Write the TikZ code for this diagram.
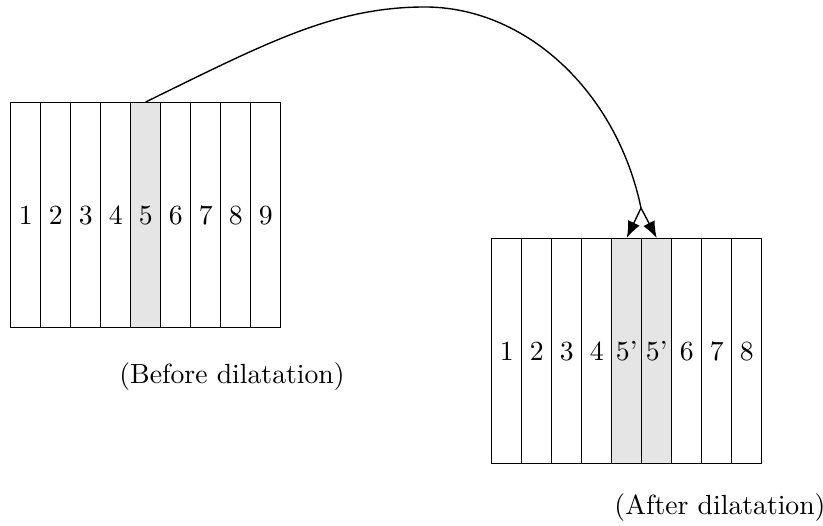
\documentclass[tikz,border=0pt]{standalone}
\usetikzlibrary{arrows.meta}
\begin{document}
\begin{tikzpicture}[x=0.3609pt,y=-0.3609pt,
  cell/.style={draw,line width=0.5pt,minimum width=10.83pt,minimum height=81.2pt,inner sep=0pt,anchor=north west,font=\normalsize},
  hl/.style={fill=black!10},
  arr/.style={-{Latex[length=6pt,width=4.6pt]},line width=0.5pt}]
\useasboundingbox (0,0) rectangle (823,526);
% left grid
\foreach \i/\lab in {1/1,2/2,3/3,4/4,6/6,7/7,8/8,9/9}{
  \node[cell] (L\i) at ({10+30*(\i-1)},102) {\lab};
}
\node[cell,hl] (L5) at (130,102) {5};
% right grid
\foreach \i/\lab in {1/1,2/2,3/3,4/4,7/6,8/7,9/8}{
  \node[cell] (R\i) at ({491+30*(\i-1)},238) {\lab};
}
\node[cell,hl] (R5) at (611,238) {5'};
\node[cell,hl] (R6) at (641,238) {5'};
% labels
\node (lb) at (232,377) {(Before dilatation)};
\node (la) at (720,508) {(After dilatation)};
% connector
\coordinate (sp) at (641,208);
\draw[line width=0.5pt] (L5.north) .. controls (268,42) and (335,7) .. (425,7)
  .. controls (525,7) and (616.4,90.5) .. (sp);
\draw[arr] (sp) -- (R5.north);
\draw[arr] (sp) -- (R6.north);
\end{tikzpicture}
\end{document}
